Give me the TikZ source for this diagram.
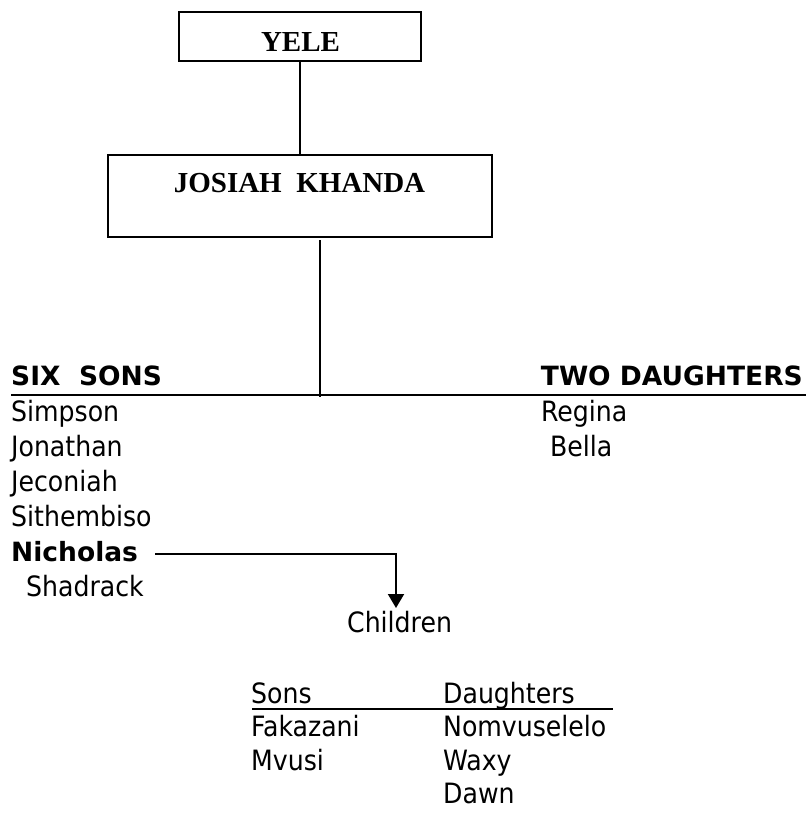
\documentclass[tikz,border=0pt]{standalone}
\usepackage{fontspec}
\setmainfont{Liberation Serif}
\newfontfamily\tah{DejaVu Sans Condensed}
\newfontfamily\tahb{DejaVu Sans}
\usetikzlibrary{arrows.meta,calc}
\tikzset{
  box/.style={draw, line width=2pt, inner sep=0pt},
  titletext/.style={anchor=base, inner sep=0pt, font=\fontsize{29}{34}\selectfont\bfseries},
  person/.style={anchor=base west, inner sep=0pt, font=\tah\fontsize{28}{33}\selectfont},
  bperson/.style={person, font=\tahb\fontsize{26.5}{32}\selectfont\bfseries},
  conn/.style={line width=2pt},
}
\begin{document}
\begin{tikzpicture}[x=1pt,y=-1pt]
\useasboundingbox (0,0) rectangle (806,813);
% boxes
\node[box, minimum width=242pt, minimum height=49pt] (yele) at (300,36.5) {};
\node[titletext] (yeletxt) at (300.5,52) {YELE};
\node[box, minimum width=384pt, minimum height=81pt] (josiah) at (300,196) {};
\node[titletext] (josiahtxt) at (299.5,193) {JOSIAH\ \ KHANDA};
\draw[conn] (yele.south) -- (josiah.north);
% branch
\coordinate (jdown) at (320,240);
\coordinate (jmid) at (320,397);
\draw[conn] (jdown) -- (jmid);
\coordinate (hl) at (11,395);
\coordinate (hr) at (806,395);
\draw[conn] (hl) -- (hr);
% headings
\node[bperson] (sixsons) at (11,385) {SIX\ \ SONS};
\node[bperson, anchor=base east] (twod) at (803,385) {TWO DAUGHTERS};
% sons
\node[person] (simpson) at (11,421) {Simpson};
\node[person] (jonathan) at (11,456) {Jonathan};
\node[person] (jeconiah) at (11,491) {Jeconiah};
\node[person] (sithembiso) at (11,526) {Sithembiso};
\node[bperson] (nicholas) at (11,561) {Nicholas};
\node[person] (shadrack) at (26,596) {Shadrack};
% daughters
\node[person] (regina) at (541,421) {Regina};
\node[person] (bella) at (550,456) {Bella};
% arrow to children
\coordinate (as) at (155,554);
\coordinate (ac) at (396,554);
\coordinate (at) at (396,608);
\draw[conn, -{Triangle[width=16pt,length=14pt]}] (as) -- (ac) -- (at);
\node[person] (children) at (347,632) {Children};
% grandchildren
\node[person] (sons) at (251,703) {Sons};
\node[person] (daughters) at (443,703) {Daughters};
\coordinate (ul) at (252,708.5);
\coordinate (ur) at (613,708.5);
\draw[conn] (ul) -- (ur);
\node[person] (fakazani) at (251,736) {Fakazani};
\node[person] (mvusi) at (251,770) {Mvusi};
\node[person] (nomvuselelo) at (443,736) {Nomvuselelo};
\node[person] (waxy) at (443,770) {Waxy};
\node[person] (dawn) at (443,803) {Dawn};
\end{tikzpicture}
\end{document}
